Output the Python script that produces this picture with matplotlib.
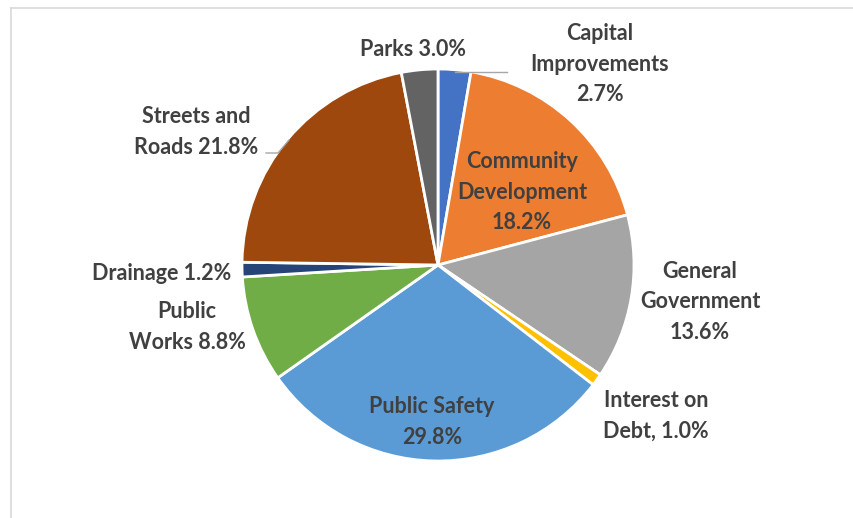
import matplotlib.pyplot as plt
from matplotlib.lines import Line2D

# data
categories = ['Capital Improvements', 'Community Development', 'General Government',
              'Interest on Debt', 'Public Safety', 'Public Works', 'Drainage',
              'Streets and Roads', 'Parks']
shares = [2.7, 18.2, 13.6, 1.0, 29.8, 8.8, 1.2, 21.8, 3.0]
label_texts = ['Capital\nImprovements\n2.7%', 'Community\nDevelopment\n18.2%',
               'General\nGovernment\n13.6%', 'Interest on\nDebt, 1.0%',
               'Public Safety\n29.8%', 'Public\nWorks 8.8%', 'Drainage 1.2%',
               'Streets and\nRoads 21.8%', 'Parks 3.0%']

colors = ['#4472C4', '#ED7D31', '#A5A5A5', '#FFC000', '#5B9BD5',
          '#70AD47', '#264478', '#9E480E', '#636363']

W, H = 854, 518
# label centres in pixel coords (x right, y down)
label_pos = [(600, 64), (522, 192), (700, 302), (656, 416), (432, 422),
             (187, 327), (162, 273), (196, 132), (413, 49)]

fig = plt.figure(figsize=(W / 100, H / 100), dpi=100)
ax = fig.add_axes([0, 0, 1, 1])

cx, cy, r = 438, H - 265, 196
ax.pie(shares, colors=colors, startangle=90, counterclock=False,
       center=(cx, cy), radius=r, frame=True,
       wedgeprops=dict(edgecolor='white', linewidth=2))
ax.set_xlim(0, W)
ax.set_ylim(0, H)
ax.set_aspect('equal')
ax.axis('off')

for txt, (x, y) in zip(label_texts, label_pos):
    ax.text(x, H - y, txt, ha='center', va='center', fontsize=15.5,
            fontweight='bold', family='Lato', color='#404040', linespacing=1.55)

# leader lines
lc = '#A6A6A6'
ax.plot([455, 507], [H - 72, H - 72], color=lc, lw=1)
ax.plot([266, 278, 289], [H - 153, H - 153, H - 140], color=lc, lw=1)

# chart frame (partially cropped)
fig.add_artist(Line2D([11 / W, 11 / W], [0, 1 - 8 / H], color='#D9D9D9', lw=1.2))
fig.add_artist(Line2D([11 / W, 1], [1 - 8 / H, 1 - 8 / H], color='#D9D9D9', lw=1.2))

fig.savefig('out.png', dpi=100, facecolor='white')
